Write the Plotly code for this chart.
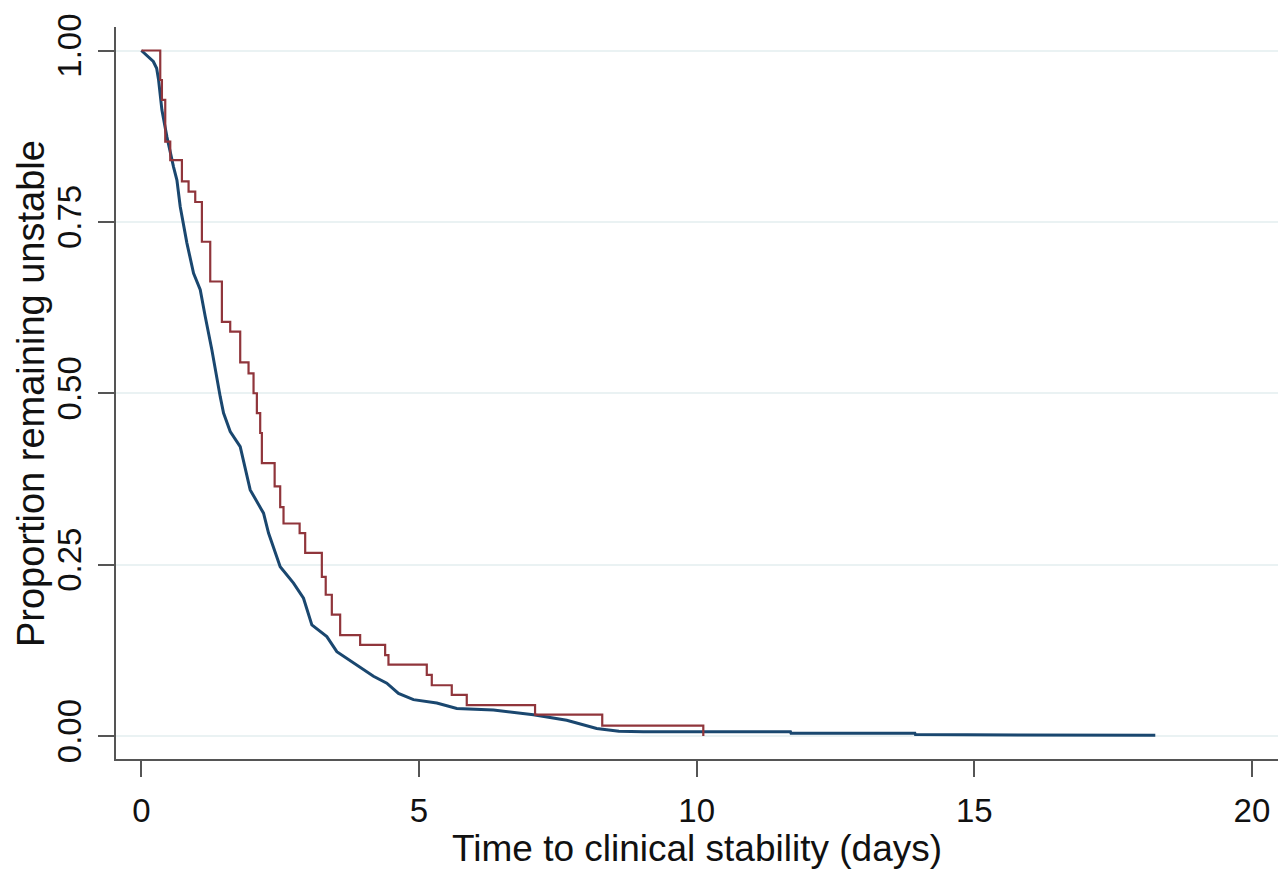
import plotly.graph_objects as go

# Blue group (Kaplan-Meier, many events) - read points
blue_t = [0.0, 0.215, 0.275, 0.31, 0.37, 0.46, 0.58, 0.64, 0.70, 0.82, 0.94, 1.06, 1.15, 1.27,
          1.42, 1.48, 1.60, 1.78, 1.96, 2.20, 2.29, 2.50, 2.74, 2.92, 3.07, 3.34, 3.52, 3.88,
          4.18, 4.42, 4.63, 4.90, 5.32, 5.68, 6.34, 7.06, 7.66, 8.20, 8.60, 9.04, 11.69, 11.70,
          13.93, 13.94, 14.86, 14.87, 18.26]
blue_s = [1.0, 0.984, 0.974, 0.957, 0.913, 0.874, 0.830, 0.811, 0.772, 0.719, 0.675, 0.651,
          0.612, 0.563, 0.495, 0.471, 0.444, 0.422, 0.359, 0.325, 0.296, 0.247, 0.223, 0.201,
          0.162, 0.145, 0.123, 0.104, 0.087, 0.077, 0.062, 0.053, 0.048, 0.040, 0.038, 0.031,
          0.023, 0.011, 0.007, 0.006, 0.006, 0.004, 0.004, 0.002, 0.002, 0.001, 0.001]

# Red group (Kaplan-Meier step function)
red_t = [0.0, 0.34, 0.37, 0.43, 0.52, 0.73, 0.85, 0.97, 1.09, 1.24, 1.45, 1.60, 1.78, 1.93,
         2.02, 2.08, 2.14, 2.17, 2.40, 2.50, 2.56, 2.85, 2.95, 3.25, 3.32, 3.43, 3.58, 3.94,
         4.39, 4.45, 5.14, 5.23, 5.59, 5.86, 7.09, 8.30, 10.12]
red_s = [1.0, 0.957, 0.928, 0.867, 0.840, 0.809, 0.794, 0.779, 0.721, 0.663, 0.604, 0.590,
         0.545, 0.529, 0.500, 0.471, 0.442, 0.398, 0.364, 0.334, 0.310, 0.296, 0.267, 0.232,
         0.206, 0.177, 0.147, 0.133, 0.118, 0.104, 0.089, 0.074, 0.060, 0.045, 0.031, 0.015,
         0.0]

x_ticks = [0, 5, 10, 15, 20]
y_ticks = [0.0, 0.25, 0.5, 0.75, 1.0]
y_ticklabels = ["0.00", "0.25", "0.50", "0.75", "1.00"]

x_title = "Time to clinical stability (days)"
y_title = "Proportion remaining unstable"

FONT = "Liberation Sans, Arial, sans-serif"

fig = go.Figure()
fig.add_trace(go.Scatter(x=blue_t, y=blue_s, mode="lines",
                         line=dict(color="#1a476f", width=3), showlegend=False))
fig.add_trace(go.Scatter(x=red_t, y=red_s, mode="lines", line_shape="hv",
                         line=dict(color="#90353b", width=2.2), showlegend=False))

fig.update_layout(
    width=1279, height=870,
    margin=dict(l=116, r=1, t=27, b=111, autoexpand=False),
    paper_bgcolor="white", plot_bgcolor="white",
    font=dict(family=FONT, color="#111"),
    xaxis=dict(range=[-0.457, 20.47], tickvals=x_ticks, showgrid=False, zeroline=False,
               showline=True, linecolor="#555", linewidth=2, automargin=False,
               ticks="outside", ticklen=16, tickwidth=2, tickcolor="#555",
               ticklabelstandoff=5,
               tickfont=dict(size=33, family=FONT, color="#111")),
    yaxis=dict(range=[-0.0336, 1.0343], tickvals=y_ticks, ticktext=y_ticklabels,
               tickangle=-90, showgrid=True, gridcolor="#eaf2f3", gridwidth=2, zeroline=False,
               showline=True, linecolor="#555", linewidth=2, automargin=False,
               ticks="outside", ticklen=16, tickwidth=2, tickcolor="#555",
               ticklabelstandoff=4,
               tickfont=dict(size=33, family=FONT, color="#111")),
    annotations=[
        dict(text=x_title, xref="paper", yref="paper", x=0.5, y=-0.1216,
             xanchor="center", yanchor="middle", showarrow=False,
             font=dict(size=37, family=FONT, color="#111")),
        dict(text=y_title, xref="paper", yref="paper", x=-0.0731, y=0.4986,
             xanchor="center", yanchor="middle", showarrow=False, textangle=-90,
             font=dict(size=38, family=FONT, color="#111")),
    ],
)

fig.write_html("out.html", config={"displayModeBar": False},
               post_script="document.body.style.margin='0';document.body.style.overflow='hidden';")
